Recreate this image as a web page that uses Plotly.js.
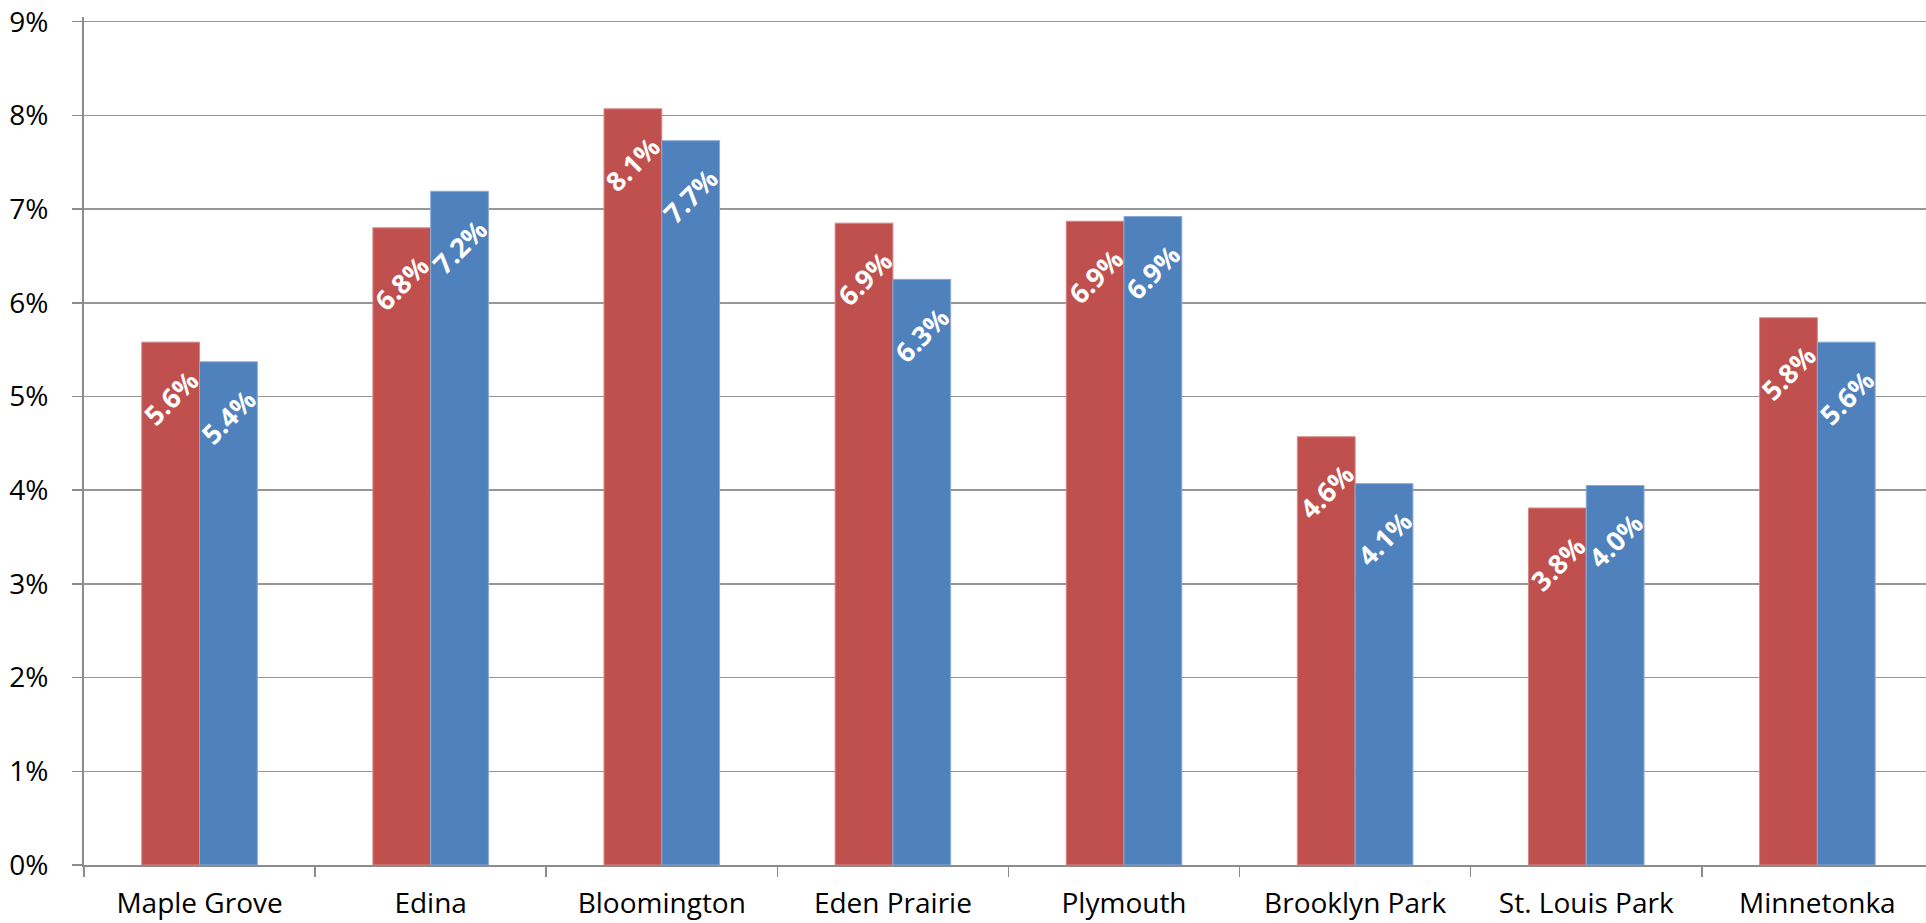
<!DOCTYPE html>
<html>
<head>
<meta charset="utf-8">
<script src="https://cdn.plot.ly/plotly-3.0.1.min.js"></script>
<style>
html, body { margin: 0; padding: 0; overflow: hidden; background: #fff; }
#chart { width: 1926px; height: 923px; }
</style>
</head>
<body>
<div id="chart"></div>
<script>
var categories = ["Maple Grove", "Edina", "Bloomington", "Eden Prairie", "Plymouth", "Brooklyn Park", "St. Louis Park", "Minnetonka"];
var redValues = [5.58, 6.80, 8.07, 6.85, 6.87, 4.57, 3.81, 5.84];
var blueValues = [5.37, 7.19, 7.73, 6.25, 6.92, 4.07, 4.05, 5.58];
var redLabels = ["5.6%", "6.8%", "8.1%", "6.9%", "6.9%", "4.6%", "3.8%", "5.8%"];
var blueLabels = ["5.4%", "7.2%", "7.7%", "6.3%", "6.9%", "4.1%", "4.0%", "5.6%"];
var yTickVals = [0, 1, 2, 3, 4, 5, 6, 7, 8, 9];
var yTickText = ["0%", "1%", "2%", "3%", "4%", "5%", "6%", "7%", "8%", "9%"];

var FONT = "'Open Sans', 'Noto Sans', sans-serif";

var traces = [
  {
    type: 'bar', x: categories, y: redValues, name: 'Series 1',
    marker: { color: '#C0504D', line: { color: '#D58886', width: 1 } },
    hoverinfo: 'skip'
  },
  {
    type: 'bar', x: categories, y: blueValues, name: 'Series 2',
    marker: { color: '#4F81BD', line: { color: '#8AAAD6', width: 1 } },
    hoverinfo: 'skip'
  }
];

var annotations = [];
function addLabels(vals, labels, shift) {
  for (var i = 0; i < categories.length; i++) {
    annotations.push({
      x: categories[i], y: vals[i], xref: 'x', yref: 'y',
      text: '<b>' + labels[i] + '</b>', showarrow: false, textangle: -45,
      xanchor: 'center', yanchor: 'middle',
      xshift: shift, yshift: -55,
      font: { family: FONT, size: 27, color: '#ffffff' }
    });
  }
}
addLabels(redValues, redLabels, -28.9);
addLabels(blueValues, blueLabels, 28.9);

var layout = {
  width: 1926, height: 923,
  margin: { l: 84, r: 0, t: 17, b: 58, pad: 0 },
  paper_bgcolor: '#ffffff', plot_bgcolor: '#ffffff',
  showlegend: false,
  barmode: 'group', bargap: 0.5, bargroupgap: 0,
  font: { family: FONT, color: '#000000' },
  xaxis: {
    type: 'category', range: [-0.5, 7.47],
    tickson: 'boundaries', ticks: 'outside', ticklen: 10, tickwidth: 1.5, tickcolor: '#8c8c8c',
    showline: true, linecolor: '#8c8c8c', linewidth: 2,
    showgrid: false, zeroline: false,
    tickfont: { family: FONT, size: 28, color: '#000000' },
    ticklabelstandoff: 12
  },
  yaxis: {
    range: [0, 9.05], tickmode: 'array', tickvals: yTickVals, ticktext: yTickText,
    ticks: 'outside', ticklen: 10, tickwidth: 1.5, tickcolor: '#8c8c8c',
    showline: true, linecolor: '#8c8c8c', linewidth: 2,
    showgrid: true, gridcolor: '#969696', gridwidth: 1.5,
    zeroline: false,
    tickfont: { family: FONT, size: 28, color: '#000000' },
    ticklabelstandoff: 18, ticklabeloverflow: 'allow'
  },
  annotations: annotations
};

Plotly.newPlot('chart', traces, layout, { staticPlot: true, displayModeBar: false });
</script>
</body>
</html>
